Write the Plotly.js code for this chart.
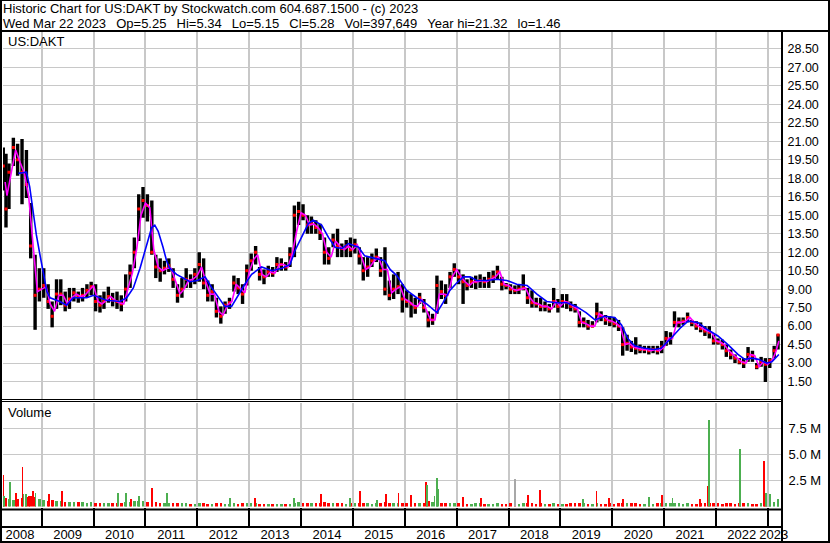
<!DOCTYPE html>
<html><head><meta charset="utf-8">
<script src="https://cdn.plot.ly/plotly-3.0.1.min.js"></script>
<style>html,body{margin:0;padding:0;background:#fff;}#chart{width:830px;height:543px;}</style>
</head><body><div id="chart"></div>
<script>
// ---- monthly price bars (date, high, low, close) ----
const months = [
 '2008-04-05','2008-04-24','2008-05-15','2008-06-15','2008-07-15','2008-08-15','2008-09-15','2008-10-15','2008-11-15','2008-12-15',
 '2009-01-15','2009-02-15','2009-03-15','2009-04-15','2009-05-15','2009-06-15','2009-07-15','2009-08-15','2009-09-15','2009-10-15','2009-11-15','2009-12-15',
 '2010-01-15','2010-02-15','2010-03-15','2010-04-15','2010-05-15','2010-06-15','2010-07-15','2010-08-15','2010-09-15','2010-10-15','2010-11-15','2010-12-15',
 '2011-01-15','2011-02-15','2011-03-15','2011-04-15','2011-05-15','2011-06-15','2011-07-15','2011-08-15','2011-09-15','2011-10-15','2011-11-15','2011-12-15',
 '2012-01-15','2012-02-15','2012-03-15','2012-04-15','2012-05-15','2012-06-15','2012-07-15','2012-08-15','2012-09-15','2012-10-15','2012-11-15','2012-12-15',
 '2013-01-15','2013-02-15','2013-03-15','2013-04-15','2013-05-15','2013-06-15','2013-07-15','2013-08-15','2013-09-15','2013-10-15','2013-11-15','2013-12-15',
 '2014-01-15','2014-02-15','2014-03-15','2014-04-15','2014-05-15','2014-06-15','2014-07-15','2014-08-15','2014-09-15','2014-10-15','2014-11-15','2014-12-15',
 '2015-01-15','2015-02-15','2015-03-15','2015-04-15','2015-05-15','2015-06-15','2015-07-15','2015-08-15','2015-09-15','2015-10-15','2015-11-15','2015-12-15',
 '2016-01-15','2016-02-15','2016-03-15','2016-04-15','2016-05-15','2016-06-15','2016-07-15','2016-08-15','2016-09-15','2016-10-15','2016-11-15','2016-12-15',
 '2017-01-15','2017-02-15','2017-03-15','2017-04-15','2017-05-15','2017-06-15','2017-07-15','2017-08-15','2017-09-15','2017-10-15','2017-11-15','2017-12-15',
 '2018-01-15','2018-02-15','2018-03-15','2018-04-15','2018-05-15','2018-06-15','2018-07-15','2018-08-15','2018-09-15','2018-10-15','2018-11-15','2018-12-15',
 '2019-01-15','2019-02-15','2019-03-15','2019-04-15','2019-05-15','2019-06-15','2019-07-15','2019-08-15','2019-09-15','2019-10-15','2019-11-15','2019-12-15',
 '2020-01-15','2020-02-15','2020-03-15','2020-04-15','2020-05-15','2020-06-15','2020-07-15','2020-08-15','2020-09-15','2020-10-15','2020-11-15','2020-12-15',
 '2021-01-15','2021-02-15','2021-03-15','2021-04-15','2021-05-15','2021-06-15','2021-07-15','2021-08-15','2021-09-15','2021-10-15','2021-11-15','2021-12-15',
 '2022-01-15','2022-02-15','2022-03-15','2022-04-15','2022-05-15','2022-06-15','2022-07-15','2022-08-15','2022-09-15','2022-10-15','2022-11-15','2022-12-15',
 '2023-01-15','2023-02-15','2023-03-14'
];
const high = [
 20.5,20.0,19.2,21.3,20.8,21.2,20.3,16.0,11.8,10.7,
 10.7,9.4,8.0,9.8,9.8,8.8,9.1,9.1,8.8,9.1,9.4,9.6,
 9.4,8.5,8.8,9.2,8.7,8.8,8.5,10.2,11.0,13.2,16.7,17.3,
 16.7,16.2,11.8,11.5,11.3,11.5,10.7,9.4,9.9,10.7,10.2,10.7,
 12.0,11.5,9.7,9.4,8.3,7.6,8.0,8.3,10.1,9.9,9.4,11.0,
 11.9,12.5,10.8,10.6,10.9,10.8,11.6,11.5,11.2,12.4,15.8,16.1,
 15.9,15.0,14.9,14.6,14.3,13.2,12.4,13.5,13.9,12.7,13.0,13.2,
 13.1,12.4,11.6,11.6,11.9,12.3,11.6,12.4,9.7,10.2,10.4,9.4,
 8.9,8.6,8.3,8.7,8.2,7.2,7.0,10.1,9.7,9.4,10.4,11.1,
 10.6,10.2,9.8,10.0,10.1,10.2,10.0,10.4,10.5,10.9,10.0,9.5,
 9.4,9.3,9.4,10.2,9.1,8.9,8.3,8.3,8.0,7.8,9.1,8.2,
 8.6,8.6,8.0,7.8,7.2,6.7,6.5,6.4,7.9,7.2,6.9,6.8,
 6.7,6.5,5.9,5.3,4.8,5.1,4.5,4.4,4.4,4.4,4.4,4.8,
 5.6,5.5,7.2,6.7,6.7,7.1,6.5,6.4,6.3,6.0,6.0,5.3,
 5.0,4.9,4.5,4.1,3.7,3.4,3.4,4.3,4.0,3.0,3.5,3.4,
 3.4,4.4,5.34
];
const low = [
 17.0,14.0,15.5,19.0,18.2,15.9,16.4,11.5,5.7,8.0,
 8.3,7.4,5.9,7.4,7.7,7.2,7.4,8.0,7.9,8.0,8.3,8.5,
 7.2,7.1,7.4,7.9,7.6,7.4,7.2,8.0,9.1,10.7,12.9,14.8,
 14.5,11.8,9.9,9.6,10.2,10.4,9.1,7.9,8.3,9.1,9.1,9.4,
 9.6,9.0,8.0,8.0,6.7,6.2,7.0,7.4,8.8,8.6,7.8,9.3,
 10.5,11.0,9.7,9.4,10.0,10.0,10.4,10.5,10.5,10.8,11.6,14.2,
 14.6,13.5,13.5,13.5,13.0,11.0,11.0,12.4,11.6,11.6,11.6,11.6,
 11.9,11.0,9.7,10.0,10.8,11.2,10.0,8.5,8.1,8.2,8.6,7.1,
 7.5,6.7,7.0,7.8,7.1,5.9,6.1,7.0,8.2,7.8,9.1,10.0,
 9.4,7.8,8.9,9.1,9.0,9.1,9.1,9.1,9.5,9.8,8.9,9.0,
 8.6,8.6,8.6,8.9,7.8,7.5,7.5,7.2,7.2,7.1,7.5,7.1,
 7.5,7.4,7.2,7.1,5.9,5.9,5.7,5.9,6.3,6.4,6.1,6.0,
 5.9,5.6,3.6,4.0,3.9,3.7,3.8,3.8,3.7,3.8,3.7,3.8,
 4.4,4.5,5.9,5.9,6.1,6.3,6.0,5.7,5.5,5.2,5.0,4.5,
 4.5,4.1,3.5,3.3,3.0,2.9,2.6,3.1,3.1,2.5,2.7,1.46,
 2.6,3.4,4.1
];
const close = [
 19.0,15.5,18.5,20.5,19.5,18.5,17.5,12.5,8.5,9.0,
 9.3,8.0,6.8,8.6,8.6,7.7,8.2,8.7,8.4,8.5,8.9,9.2,
 8.0,7.7,8.0,8.4,8.1,8.0,7.8,9.0,10.3,12.0,15.5,16.2,
 15.8,12.0,10.8,10.5,10.7,10.9,9.8,8.5,9.0,9.8,9.7,10.2,
 11.0,9.5,8.5,8.8,7.2,6.8,7.7,7.9,9.5,9.1,8.6,10.5,
 11.3,12.0,10.2,10.0,10.4,10.3,11.0,11.0,10.8,11.8,15.0,15.3,
 15.0,14.2,14.3,14.0,13.6,12.0,11.5,13.0,12.5,12.3,12.5,12.2,
 12.6,11.7,10.5,10.8,11.3,11.6,10.5,9.0,8.5,9.0,9.2,8.2,
 8.0,7.8,7.5,8.3,7.5,6.5,6.5,9.3,8.8,8.5,10.0,10.6,
 10.0,9.6,9.3,9.6,9.6,9.7,9.6,9.8,10.0,10.4,9.4,9.3,
 9.0,8.9,9.0,9.1,8.3,7.9,7.8,7.6,7.6,7.4,8.0,7.6,
 8.0,7.9,7.6,7.4,6.3,6.3,6.0,6.0,7.0,6.8,6.5,6.4,
 6.2,6.0,4.5,4.6,4.3,4.2,4.1,4.1,4.0,4.1,4.0,4.3,
 5.0,5.0,6.3,6.3,6.4,6.7,6.3,6.0,5.8,5.6,5.5,4.8,
 4.7,4.5,4.0,3.7,3.4,3.1,3.0,3.7,3.6,2.7,3.1,2.9,
 3.2,4.0,5.28
];

// ---- short moving average (magenta) ----
const magentaDates = [
 '2008-04-18','2008-05-01','2008-06-01','2008-07-01','2008-08-01','2008-09-01','2008-10-01','2008-11-01','2008-12-01',
 '2009-01-01','2009-02-01','2009-03-01','2009-04-01','2009-05-01','2009-06-01','2009-07-01','2009-08-01','2009-09-01','2009-10-01','2009-11-01','2009-12-01',
 '2010-01-01','2010-02-01','2010-03-01','2010-04-01','2010-05-01','2010-06-01','2010-07-01','2010-08-01','2010-09-01','2010-10-01','2010-11-01','2010-12-01',
 '2011-01-01','2011-02-01','2011-03-01','2011-04-01','2011-05-01','2011-06-01','2011-07-01','2011-08-01','2011-09-01','2011-10-01','2011-11-01','2011-12-01',
 '2012-01-01','2012-02-01','2012-03-01','2012-04-01','2012-05-01','2012-06-01','2012-07-01','2012-08-01','2012-09-01','2012-10-01','2012-11-01','2012-12-01',
 '2013-01-01','2013-02-01','2013-03-01','2013-04-01','2013-05-01','2013-06-01','2013-07-01','2013-08-01','2013-09-01','2013-10-01','2013-11-01','2013-12-01',
 '2014-01-01','2014-02-01','2014-03-01','2014-04-01','2014-05-01','2014-06-01','2014-07-01','2014-08-01','2014-09-01','2014-10-01','2014-11-01','2014-12-01',
 '2015-01-01','2015-02-01','2015-03-01','2015-04-01','2015-05-01','2015-06-01','2015-07-01','2015-08-01','2015-09-01','2015-10-01','2015-11-01','2015-12-01',
 '2016-01-01','2016-02-01','2016-03-01','2016-04-01','2016-05-01','2016-06-01','2016-07-01','2016-08-01','2016-09-01','2016-10-01','2016-11-01','2016-12-01',
 '2017-01-01','2017-02-01','2017-03-01','2017-04-01','2017-05-01','2017-06-01','2017-07-01','2017-08-01','2017-09-01','2017-10-01','2017-11-01','2017-12-01',
 '2018-01-01','2018-02-01','2018-03-01','2018-04-01','2018-05-01','2018-06-01','2018-07-01','2018-08-01','2018-09-01','2018-10-01','2018-11-01','2018-12-01',
 '2019-01-01','2019-02-01','2019-03-01','2019-04-01','2019-05-01','2019-06-01','2019-07-01','2019-08-01','2019-09-01','2019-10-01','2019-11-01','2019-12-01',
 '2020-01-01','2020-02-01','2020-03-01','2020-04-01','2020-05-01','2020-06-01','2020-07-01','2020-08-01','2020-09-01','2020-10-01','2020-11-01','2020-12-01',
 '2021-01-01','2021-02-01','2021-03-01','2021-04-01','2021-05-01','2021-06-01','2021-07-01','2021-08-01','2021-09-01','2021-10-01','2021-11-01','2021-12-01',
 '2022-01-01','2022-02-01','2022-03-01','2022-04-01','2022-05-01','2022-06-01','2022-07-01','2022-08-01','2022-09-01','2022-10-01','2022-11-01','2022-12-01',
 '2023-01-01','2023-02-01','2023-03-01','2023-03-20'
];
const magentaMA = [
 17.7,16.6,18.5,20.3,19.3,18.4,16.5,12.5,8.8,
 9.0,9.2,7.8,7.2,8.5,8.5,7.8,8.3,8.6,8.4,8.5,8.9,
 9.3,8.0,7.8,8.1,8.4,8.1,7.9,7.8,9.0,10.3,12.3,15.0,
 16.0,15.6,12.2,10.8,10.5,10.7,10.7,9.7,8.6,9.0,9.7,9.8,
 10.1,10.8,9.6,8.6,8.6,7.2,6.9,7.7,8.0,9.4,9.0,8.7,
 10.4,11.4,11.8,10.2,10.0,10.4,10.3,11.0,11.0,10.8,11.9,13.7,
 15.2,15.0,14.2,14.3,14.0,13.5,12.0,11.6,12.9,12.5,12.2,12.5,
 12.2,12.6,11.7,10.6,10.8,11.3,11.6,10.6,10.6,8.7,9.0,9.2,
 8.2,8.0,7.7,7.6,8.2,7.4,6.5,6.5,8.6,8.6,8.5,10.0,
 10.6,10.0,9.6,9.3,9.6,9.6,9.7,9.6,9.8,10.0,10.4,9.4,
 9.3,9.0,8.9,9.0,9.1,8.3,7.9,7.8,7.6,7.6,7.4,8.0,
 7.6,8.0,7.9,7.6,7.4,6.3,6.2,6.0,6.0,7.0,6.8,6.5,
 6.4,6.2,5.9,4.5,4.6,4.3,4.2,4.1,4.1,4.0,4.1,4.0,
 4.3,5.0,5.0,6.3,6.3,6.4,6.7,6.3,6.0,5.8,5.6,5.5,
 4.8,4.7,4.5,4.0,3.7,3.4,3.1,3.0,3.7,3.6,2.7,3.1,
 2.9,3.2,4.0,4.8
];

// ---- long moving average (blue) ----
const blueDates = [
 '2008-07-20','2008-09-15','2008-10-08','2008-11-02','2008-11-24','2008-12-19','2009-01-12','2009-02-06','2009-03-01',
 '2009-05-08','2009-06-25','2009-08-11','2009-11-14','2010-01-01','2010-04-01','2010-07-05','2010-08-22','2010-10-08',
 '2010-11-24','2011-01-08','2011-02-14','2011-03-08','2011-04-01','2011-05-05','2011-05-30','2011-06-21','2011-08-08',
 '2011-09-24','2011-11-10','2012-01-01','2012-02-25','2012-04-13','2012-05-30','2012-07-13','2012-08-30','2012-10-16',
 '2012-12-01','2013-01-18','2013-03-29','2013-06-10','2013-08-19','2013-10-16','2013-11-18','2014-01-04','2014-02-20',
 '2014-03-28','2014-05-26','2014-07-13','2014-08-29','2014-10-16','2014-12-01','2015-02-10','2015-03-25','2015-06-06',
 '2015-08-14','2015-09-20','2015-11-06','2016-01-15','2016-03-26','2016-06-03','2016-08-15','2016-09-27','2016-11-14',
 '2017-01-01','2017-02-17','2017-04-05','2017-05-23','2017-07-31','2017-10-08','2017-12-20','2018-02-28','2018-05-12',
 '2018-07-20','2018-09-27','2018-12-05','2019-02-14','2019-04-23','2019-07-01','2019-09-02','2019-11-10','2020-01-19',
 '2020-03-07','2020-04-20','2020-06-07','2020-08-15','2020-10-23','2020-12-10','2021-02-17','2021-04-30','2021-06-18',
 '2021-08-26','2021-11-04','2022-01-15','2022-03-26','2022-06-05','2022-07-23','2022-09-10','2022-10-27','2022-12-24',
 '2023-01-30','2023-03-20'
];
const blueMA = [
 18.4,18.5,17.3,15.1,13.4,11.8,10.2,8.8,8.3,
 8.0,7.7,8.3,8.3,8.5,8.1,8.0,8.3,9.1,
 10.7,12.6,14.0,14.2,13.7,12.4,11.3,10.7,10.2,
 9.9,9.6,9.7,10.0,9.1,8.3,7.6,7.6,8.5,
 9.4,10.2,10.8,10.5,10.7,11.0,12.1,13.2,14.3,
 14.6,14.2,13.2,12.4,12.3,12.7,12.4,11.7,11.5,
 11.3,10.6,10.1,8.9,8.3,7.8,7.1,7.9,8.9,
 9.5,10.0,10.0,9.7,9.7,9.8,9.7,9.4,9.3,
 8.6,8.0,7.9,7.9,7.6,7.1,6.5,6.8,6.7,
 6.1,5.0,4.4,4.2,4.1,4.2,5.0,5.9,6.4,
 6.3,5.7,5.2,4.5,3.7,3.3,3.4,3.3,3.0,
 3.1,3.7
];

// ---- volume (millions): typical monthly level + notable spikes ----
const volBase = [
 0.9,0.8,0.7,0.6,0.7,0.8,0.9,1.0,0.9,0.7,
 0.6,0.5,0.6,0.5,0.5,0.4,0.45,0.4,0.4,0.4,0.35,0.4,
 0.35,0.3,0.3,0.35,0.3,0.3,0.3,0.4,0.45,0.5,0.55,0.5,
 0.4,0.5,0.4,0.35,0.3,0.3,0.3,0.35,0.3,0.3,0.25,0.25,
 0.3,0.3,0.25,0.25,0.3,0.3,0.25,0.25,0.3,0.25,0.3,0.3,
 0.3,0.3,0.25,0.25,0.2,0.2,0.25,0.2,0.2,0.25,0.35,0.45,
 0.35,0.3,0.3,0.3,0.35,0.4,0.3,0.3,0.3,0.3,0.25,0.3,
 0.3,0.35,0.3,0.3,0.25,0.3,0.3,0.4,0.35,0.3,0.3,0.35,
 0.3,0.35,0.3,0.3,0.35,0.5,0.4,0.5,0.35,0.3,0.3,0.3,
 0.3,0.3,0.25,0.25,0.3,0.3,0.25,0.25,0.25,0.3,0.25,0.25,
 0.3,0.35,0.25,0.3,0.35,0.3,0.25,0.3,0.25,0.25,0.3,0.25,
 0.25,0.25,0.3,0.3,0.35,0.3,0.25,0.25,0.3,0.25,0.25,0.3,
 0.25,0.3,0.35,0.3,0.3,0.3,0.25,0.25,0.3,0.25,0.3,0.3,
 0.35,0.3,0.35,0.3,0.25,0.3,0.25,0.25,0.3,0.3,0.35,0.3,
 0.3,0.25,0.3,0.3,0.25,0.3,0.3,0.3,0.25,0.25,0.3,0.35,
 0.4,0.4,0.4
];
const spikeDates = [
 '2008-04-07','2008-04-12','2008-05-22','2008-07-02','2008-08-19','2008-08-26','2008-09-12','2008-10-05','2008-10-30','2008-11-18',
 '2009-02-22','2009-03-20','2009-05-23','2010-06-21','2010-08-17','2010-09-20','2010-11-16','2011-02-17','2011-06-02','2012-08-18',
 '2013-02-10','2013-11-14','2014-05-19','2014-12-13','2015-02-21','2015-06-18','2015-08-22','2015-11-18','2016-02-13','2016-05-30',
 '2016-06-04','2016-07-28','2016-08-15','2016-08-22','2017-02-13','2017-06-20','2018-02-17','2018-05-19','2018-08-11','2019-06-10',
 '2019-09-12','2019-12-12','2020-03-18','2020-09-17','2020-12-17','2021-02-28','2021-09-12','2021-11-03','2021-11-14','2022-06-21',
 '2022-12-06','2022-12-17','2023-01-16','2023-03-13'
];
const spikeVol = [
 3.0,1.0,2.4,1.3,3.8,1.2,1.2,1.0,1.5,1.3,
 1.2,0.6,1.5,1.3,1.3,0.7,1.0,1.8,1.3,0.8,
 0.8,0.8,1.2,0.8,1.5,0.6,1.2,1.3,1.1,2.4,
 2.1,1.0,2.75,1.7,0.9,0.85,2.6,1.1,1.6,0.7,
 1.5,0.85,0.7,0.9,1.1,0.85,0.7,2.0,8.3,5.5,
 4.4,1.3,1.2,0.7
];
const spikeDir = [
 'd','u','u','d','d','u','u','d','d','u',
 'd','d','d','u','u','d','u','d','u','u',
 'd','u','d','u','d','u','d','d','d','d',
 'u','u','u','u','d','d','n','d','d','u',
 'd','d','d','u','d','u','d','d','u','u',
 'd','u','u','u'
];

// ---- axis labels ----
const priceTicks = [1.5,3,4.5,6,7.5,9,10.5,12,13.5,15,16.5,18,19.5,21,22.5,24,25.5,27,28.5];
const volTickVals = [2.5,5,7.5];
const volTickText = ['2.5 M','5.0 M','7.5 M'];
const yearLabels = ['2008','2009','2010','2011','2012','2013','2014','2015','2016','2017','2018','2019','2020','2021','2022','2023'];
const yearLabelDates = ['2008-07-31','2009-07-02','2010-07-02','2011-07-02','2012-07-02','2013-07-02','2014-07-02','2015-07-02',
 '2016-07-02','2017-07-02','2018-07-02','2019-07-02','2020-07-02','2021-07-02','2022-07-02','2023-02-12'];

const GAP = '\u00a0\u2002';
const header1 = 'Historic Chart for US:DAKT by Stockwatch.com 604.687.1500 - (c) 2023';
const header2 = ['Wed Mar 22 2023','Op=5.25','Hi=5.34','Lo=5.15','Cl=5.28','Vol=397,649','Year hi=21.32','lo=1.46'].join(GAP);

// ---- build traces ----
const UP = '#4CAF50', DOWN = '#FF0000', FLAT = '#A8A8A8';
const barX = [], barY = [];
months.forEach((d, i) => { barX.push(d, d, null); barY.push(low[i], high[i], null); });
const baseColors = close.map((c, i) => (i === 0 || c >= close[i - 1]) ? UP : DOWN);
const spikeColors = spikeDir.map(s => s === 'u' ? UP : (s === 'd' ? DOWN : FLAT));
const DAY = 86400000;

const FONT = '"Liberation Sans", Arial, Helvetica, sans-serif';
const W = 830, H = 543;
const px = v => v / W, py = v => 1 - v / H;
const XR = ['2008-04-03', '2023-04-04'];
const XD = [px(3), px(781)];

const traces = [
 {type:'scatter', mode:'lines', x:barX, y:barY, xaxis:'x', yaxis:'y', line:{color:'#000000', width:3.4}, connectgaps:false, hoverinfo:'skip'},
 {type:'scatter', mode:'markers', x:months, y:close, xaxis:'x', yaxis:'y', marker:{symbol:'square', size:3, color:'#FF0000', line:{width:0}}, hoverinfo:'skip'},
 {type:'scatter', mode:'lines', x:magentaDates, y:magentaMA, xaxis:'x', yaxis:'y', line:{color:'#FF00FF', width:1.6}, hoverinfo:'skip'},
 {type:'scatter', mode:'lines', x:blueDates, y:blueMA, xaxis:'x', yaxis:'y', line:{color:'#0000FF', width:1.6}, hoverinfo:'skip'},
 {type:'bar', x:months, y:volBase, xaxis:'x2', yaxis:'y2', width:18*DAY, marker:{color:baseColors, line:{width:0}}, hoverinfo:'skip'},
 {type:'bar', x:spikeDates, y:spikeVol, xaxis:'x2', yaxis:'y2', width:12*DAY, marker:{color:spikeColors, line:{width:0}}, hoverinfo:'skip'},
 // carrier for the year-label axis
 {type:'scatter', mode:'markers', x:yearLabelDates, y:yearLabelDates.map(() => 0), xaxis:'x3', yaxis:'y2', marker:{opacity:0, size:1}, hoverinfo:'skip'}
];

const gridV = {showgrid:true, gridcolor:'#C8C8C8', gridwidth:2, dtick:'M12', tick0:'2009-01-01'};
const line = (x0, y0, x1, y1, w) => ({type:'line', xref:'paper', yref:'paper', x0:px(x0), y0:py(y0), x1:px(x1), y1:py(y1), line:{color:'#000000', width:w}, layer:'above'});

const layout = {
 width:W, height:H, margin:{l:0, r:0, t:0, b:0, pad:0},
 paper_bgcolor:'#FFFFFF', plot_bgcolor:'#FFFFFF', showlegend:false, barmode:'overlay', bargap:0,
 font:{family:FONT, size:13, color:'#000000'},
 xaxis: Object.assign({type:'date', domain:XD, range:XR, anchor:'y', showticklabels:false, ticks:'', zeroline:false, showline:false}, gridV),
 yaxis: {domain:[py(400), py(30.5)], range:[0,30], side:'right', anchor:'x', tickmode:'array', tickvals:priceTicks,
   tickformat:'.2f', showgrid:true, gridcolor:'#C8C8C8', gridwidth:1, zeroline:false, showline:false,
   ticks:'outside', ticklen:3, tickcolor:'rgba(0,0,0,0)', tickfont:{family:FONT, size:12.5, color:'#000000'}},
 xaxis2: Object.assign({type:'date', domain:XD, range:XR, anchor:'y2', showticklabels:false, ticks:'outside', ticklen:20, tickwidth:2,
   tickcolor:'#000000', zeroline:false, showline:false}, gridV),
 yaxis2: {domain:[py(506.5), py(402.5)], range:[0,10], side:'right', anchor:'x2', tickmode:'array', tickvals:volTickVals, ticktext:volTickText,
   showgrid:true, gridcolor:'#C8C8C8', gridwidth:1, zeroline:false, showline:false,
   ticks:'outside', ticklen:4, tickcolor:'rgba(0,0,0,0)', tickfont:{family:FONT, size:13, color:'#000000'}},
 xaxis3: {type:'date', domain:XD, range:XR, anchor:'y2', overlaying:'x2', side:'bottom', tickmode:'array', tickvals:yearLabelDates, ticktext:yearLabels,
   showgrid:false, zeroline:false, showline:false, ticks:'outside', ticklen:16, tickcolor:'rgba(0,0,0,0)',
   tickfont:{family:FONT, size:13, color:'#000000'}},
 shapes: [
  line(0, 31, 830, 31, 2),
  line(782, 31, 782, 543, 2),
  line(0, 399.5, 782, 399.5, 1),
  line(0, 401.5, 782, 401.5, 1),
  line(0, 509.5, 782, 509.5, 2),
  line(0, 527, 782, 527, 2),
  line(0, 542, 830, 542, 2),
  line(1, 0, 1, 543, 2),
  line(829, 0, 829, 543, 2),
  line(0, 0.5, 830, 0.5, 1)
 ],
 annotations: [
  {xref:'paper', yref:'paper', x:px(1), y:py(9), xanchor:'left', yanchor:'middle', text:header1, showarrow:false, font:{family:FONT, size:13, color:'#000000'}},
  {xref:'paper', yref:'paper', x:px(1), y:py(23), xanchor:'left', yanchor:'middle', text:header2, showarrow:false, font:{family:FONT, size:13, color:'#000000'}},
  {xref:'paper', yref:'paper', x:px(6), y:py(41.5), xanchor:'left', yanchor:'middle', text:'US:DAKT', showarrow:false, font:{family:FONT, size:13, color:'#000000'}},
  {xref:'paper', yref:'paper', x:px(6), y:py(413), xanchor:'left', yanchor:'middle', text:'Volume', showarrow:false, font:{family:FONT, size:13, color:'#000000'}}
 ]
};

Plotly.newPlot('chart', traces, layout, {staticPlot:true, displayModeBar:false});
</script>
</body></html>
